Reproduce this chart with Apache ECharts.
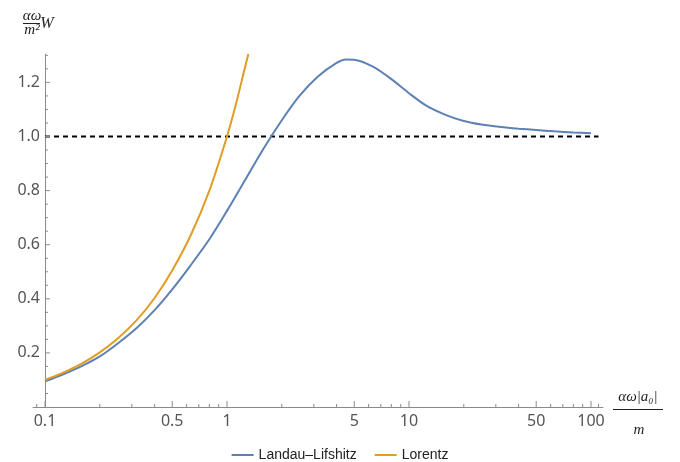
<!DOCTYPE html>
<html>
<head>
<meta charset="utf-8">
<script src="https://cdn.jsdelivr.net/npm/echarts@6/dist/echarts.min.js"></script>
<style>
  html, body { margin: 0; padding: 0; background: #fff; }
  #chart { width: 680px; height: 462px; }
</style>
</head>
<body>
<div id="chart"></div>
<script>
// values (x is the abscissa, plotted on a log10 scale)
const llX = [0.1, 0.125, 0.16, 0.2, 0.25, 0.32, 0.4, 0.5, 0.63, 0.8, 1, 1.26, 1.58, 2, 2.5, 3.16, 4, 4.5,
  5, 6.3, 8, 10, 12.5, 16, 20, 25, 32, 40, 50, 63, 80, 100];
const llY = [0.095, 0.120, 0.152, 0.187, 0.234, 0.293, 0.358, 0.435, 0.523, 0.620, 0.725, 0.840, 0.953,
  1.060, 1.150, 1.222, 1.272, 1.285, 1.284, 1.259, 1.212, 1.160, 1.113, 1.079, 1.057, 1.044, 1.035,
  1.029, 1.024, 1.019, 1.015, 1.012];

const lorentzX = [0.1, 0.125, 0.16, 0.2, 0.25, 0.32, 0.4, 0.5, 0.63, 0.8, 1.0, 1.12, 1.26, 1.31];
const lorentzY = [0.100, 0.126, 0.161, 0.202, 0.252, 0.322, 0.403, 0.505, 0.633, 0.800, 1.0, 1.12, 1.26, 1.305];

const refX = [0.1, 110];
const refY = [1, 1];

const xMajorTicks = [0.1, 0.5, 1, 5, 10, 50, 100];
const xMajorLabels = ['0.1', '0.5', '1', '5', '10', '50', '100'];
const xMinorTicks = [0.09, 0.2, 0.3, 0.4, 0.6, 0.7, 0.8, 0.9, 2, 3, 4, 6, 7, 8, 9,
  20, 30, 40, 60, 70, 80, 90, 110];
const yMajorTicks = [0.2, 0.4, 0.6, 0.8, 1.0, 1.2];
const yMinorTicks = [0.05, 0.1, 0.15, 0.25, 0.3, 0.35, 0.45, 0.5, 0.55, 0.65, 0.7, 0.75,
  0.85, 0.9, 0.95, 1.05, 1.1, 1.15, 1.25, 1.3];

const lg = (v) => Math.log10(v);
const pairs = (xs, ys) => xs.map((x, i) => [lg(x), ys[i]]);

const axisColor = '#8a8a8a';
const tickFont = { color: '#555', fontSize: 16, fontFamily: 'Noto Sans' };
const mathFont = 'Liberation Serif';
const yAxisAt = lg(0.1);

function xLabel(v) {
  let best = 0;
  xMajorTicks.forEach((t, i) => {
    if (Math.abs(lg(t) - v) < Math.abs(lg(xMajorTicks[best]) - v)) best = i;
  });
  return xMajorLabels[best];
}

// inside tick marks, placed through the axis scales as thin rect symbols
function tickSeries(data, len, vertical) {
  return {
    type: 'scatter', silent: true, clip: false, z: 2,
    data: data,
    symbol: 'rect',
    symbolSize: vertical ? [1, len] : [len, 1],
    symbolOffset: vertical ? [0, -len / 2] : [len / 2, 0],
    itemStyle: { color: axisColor, opacity: 1 }
  };
}

const chart = echarts.init(document.getElementById('chart'));
chart.setOption({
  animation: false,
  backgroundColor: '#fff',
  grid: { left: 33, right: 77, top: 54, bottom: 55 },
  xAxis: {
    type: 'value', min: -1.066, max: 2.066,
    axisLine: { onZero: false, lineStyle: { color: axisColor, width: 1 } },
    axisTick: { show: false },
    axisLabel: { customValues: xMajorTicks.map(lg), formatter: xLabel, margin: 6, ...tickFont },
    splitLine: { show: false }
  },
  yAxis: {
    type: 'value', min: 0, max: 1.305, offset: -12,
    axisLine: { show: true, onZero: false, lineStyle: { color: axisColor, width: 1 } },
    axisTick: { show: false },
    axisLabel: { customValues: yMajorTicks, formatter: (v) => v.toFixed(1), margin: 5, ...tickFont },
    splitLine: { show: false }
  },
  legend: {
    data: ['Landau–Lifshitz', 'Lorentz'],
    top: 443, left: 'center',
    icon: 'path://M0,0 L22,0 L22,2 L0,2 Z',
    itemWidth: 22, itemHeight: 2, itemGap: 18,
    textStyle: { color: '#222', fontSize: 14, fontFamily: 'Liberation Sans' }
  },
  series: [
    {
      name: 'ref', type: 'line', data: pairs(refX, refY), symbol: 'none', z: 1,
      lineStyle: { color: '#000', width: 2, type: [5, 4] }, silent: true
    },
    {
      name: 'Landau–Lifshitz', type: 'line', data: pairs(llX, llY), symbol: 'none', smooth: 0.3, z: 3,
      itemStyle: { color: '#5E81B5' }, lineStyle: { color: '#5E81B5', width: 2 }
    },
    {
      name: 'Lorentz', type: 'line', data: pairs(lorentzX, lorentzY), symbol: 'none', smooth: 0.3, z: 3,
      itemStyle: { color: '#E19C24' }, lineStyle: { color: '#E19C24', width: 2 }
    },
    tickSeries(xMajorTicks.map((v) => [lg(v), 0]), 6, true),
    tickSeries(xMinorTicks.map((v) => [lg(v), 0]), 3, true),
    tickSeries(yMajorTicks.map((v) => [yAxisAt, v]), 5, false),
    tickSeries(yMinorTicks.map((v) => [yAxisAt, v]), 3, false)
  ],
  graphic: [
    // y-axis name: (αω / m²) W
    { type: 'text', x: 32, y: 16, style: { text: 'αω', font: 'italic 15px ' + mathFont, fill: '#222', align: 'center', verticalAlign: 'middle' } },
    { type: 'line', shape: { x1: 23, y1: 23.5, x2: 40, y2: 23.5 }, style: { stroke: '#222', lineWidth: 1 } },
    { type: 'text', x: 32, y: 30, style: { text: 'm²', font: 'italic 15px ' + mathFont, fill: '#222', align: 'center', verticalAlign: 'middle' } },
    { type: 'text', x: 47, y: 24, style: { text: 'W', font: 'italic 16px ' + mathFont, fill: '#222', align: 'center', verticalAlign: 'middle' } },
    // x-axis name: αω|a₀| / m
    { type: 'text', x: 638, y: 397, style: { text: 'αω|a₀|', font: 'italic 15px ' + mathFont, fill: '#222', align: 'center', verticalAlign: 'middle' } },
    { type: 'line', shape: { x1: 613, y1: 409.5, x2: 663, y2: 409.5 }, style: { stroke: '#222', lineWidth: 1 } },
    { type: 'text', x: 639, y: 430, style: { text: 'm', font: 'italic 15px ' + mathFont, fill: '#222', align: 'center', verticalAlign: 'middle' } }
  ]
});
</script>
</body>
</html>
